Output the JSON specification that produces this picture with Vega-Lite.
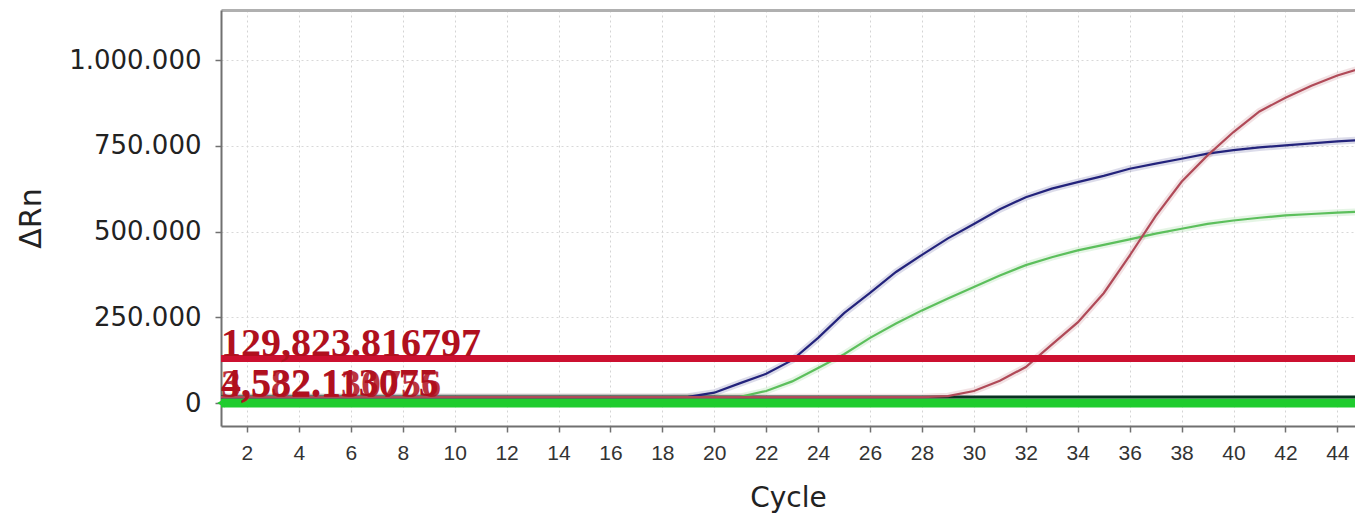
{
  "$schema": "https://vega.github.io/schema/vega-lite/v6.json",
  "width": 1134,
  "height": 416,
  "autosize": {"type": "none"},
  "padding": {"left": 221, "top": 10, "right": 0, "bottom": 95},
  "background": "white",
  "config": {
    "view": {"stroke": null},
    "locale": {"number": {"decimal": ",", "thousands": ".", "grouping": [3], "currency": ["", ""]}},
    "axisBottom": {"domainColor": "#707070", "domainWidth": 2, "tickColor": "#707070", "tickSize": 6, "tickWidth": 1.5, "labelFont": "Liberation Sans", "labelFontSize": 21, "labelColor": "#333333", "labelPadding": 10, "labelFlush": false, "labelOverlap": false, "titleFont": "DejaVu Sans", "titleFontSize": 28, "titleFontWeight": "normal", "titleColor": "#222222", "titlePadding": 21, "gridColor": "#d4d4d4", "gridDash": [2, 3], "gridWidth": 1},
    "axisLeft": {"domainColor": "#707070", "domainWidth": 2, "tickColor": "#707070", "tickSize": 6, "tickWidth": 1.5, "labelFont": "DejaVu Sans", "labelFontSize": 26, "labelColor": "#222222", "labelPadding": 14, "labelFlush": false, "labelOverlap": false, "titleFont": "DejaVu Sans", "titleFontSize": 30, "titleFontWeight": "normal", "titleColor": "#222222", "titlePadding": 22, "gridColor": "#d8d8d8", "gridDash": [2, 3], "gridWidth": 1},
    "axisTop": {"domainColor": "#b0b0b0", "domainWidth": 3, "ticks": false, "labels": false, "grid": false}
  },
  "resolve": {"axis": {"x": "independent"}},
  "datasets": {
    "curves": [
      {"cycle": 1, "well": "A", "dRn": 17000}, {"cycle": 2, "well": "A", "dRn": 17000}, {"cycle": 3, "well": "A", "dRn": 17000}, {"cycle": 4, "well": "A", "dRn": 17000}, {"cycle": 5, "well": "A", "dRn": 17000}, {"cycle": 6, "well": "A", "dRn": 17000}, {"cycle": 7, "well": "A", "dRn": 17000}, {"cycle": 8, "well": "A", "dRn": 17000}, {"cycle": 9, "well": "A", "dRn": 17000}, {"cycle": 10, "well": "A", "dRn": 17000}, {"cycle": 11, "well": "A", "dRn": 17000}, {"cycle": 12, "well": "A", "dRn": 17000}, {"cycle": 13, "well": "A", "dRn": 17000}, {"cycle": 14, "well": "A", "dRn": 17000}, {"cycle": 15, "well": "A", "dRn": 17000}, {"cycle": 16, "well": "A", "dRn": 17000}, {"cycle": 17, "well": "A", "dRn": 17000}, {"cycle": 18, "well": "A", "dRn": 17000}, {"cycle": 19, "well": "A", "dRn": 18000}, {"cycle": 20, "well": "A", "dRn": 30000}, {"cycle": 21, "well": "A", "dRn": 58000}, {"cycle": 22, "well": "A", "dRn": 85000}, {"cycle": 23, "well": "A", "dRn": 125000}, {"cycle": 24, "well": "A", "dRn": 190000}, {"cycle": 25, "well": "A", "dRn": 262000}, {"cycle": 26, "well": "A", "dRn": 321000}, {"cycle": 27, "well": "A", "dRn": 382000}, {"cycle": 28, "well": "A", "dRn": 432000}, {"cycle": 29, "well": "A", "dRn": 480000}, {"cycle": 30, "well": "A", "dRn": 522000}, {"cycle": 31, "well": "A", "dRn": 565000}, {"cycle": 32, "well": "A", "dRn": 600000}, {"cycle": 33, "well": "A", "dRn": 625000}, {"cycle": 34, "well": "A", "dRn": 644000}, {"cycle": 35, "well": "A", "dRn": 662000}, {"cycle": 36, "well": "A", "dRn": 683000}, {"cycle": 37, "well": "A", "dRn": 698000}, {"cycle": 38, "well": "A", "dRn": 712000}, {"cycle": 39, "well": "A", "dRn": 727000}, {"cycle": 40, "well": "A", "dRn": 737000}, {"cycle": 41, "well": "A", "dRn": 745000}, {"cycle": 42, "well": "A", "dRn": 751000}, {"cycle": 43, "well": "A", "dRn": 757000}, {"cycle": 44, "well": "A", "dRn": 763000}, {"cycle": 45, "well": "A", "dRn": 767000},
      {"cycle": 1, "well": "B", "dRn": 17000}, {"cycle": 2, "well": "B", "dRn": 17000}, {"cycle": 3, "well": "B", "dRn": 17000}, {"cycle": 4, "well": "B", "dRn": 17000}, {"cycle": 5, "well": "B", "dRn": 17000}, {"cycle": 6, "well": "B", "dRn": 17000}, {"cycle": 7, "well": "B", "dRn": 17000}, {"cycle": 8, "well": "B", "dRn": 17000}, {"cycle": 9, "well": "B", "dRn": 17000}, {"cycle": 10, "well": "B", "dRn": 17000}, {"cycle": 11, "well": "B", "dRn": 17000}, {"cycle": 12, "well": "B", "dRn": 17000}, {"cycle": 13, "well": "B", "dRn": 17000}, {"cycle": 14, "well": "B", "dRn": 17000}, {"cycle": 15, "well": "B", "dRn": 17000}, {"cycle": 16, "well": "B", "dRn": 17000}, {"cycle": 17, "well": "B", "dRn": 17000}, {"cycle": 18, "well": "B", "dRn": 17000}, {"cycle": 19, "well": "B", "dRn": 17000}, {"cycle": 20, "well": "B", "dRn": 17000}, {"cycle": 21, "well": "B", "dRn": 18000}, {"cycle": 22, "well": "B", "dRn": 35000}, {"cycle": 23, "well": "B", "dRn": 63000}, {"cycle": 24, "well": "B", "dRn": 102000}, {"cycle": 25, "well": "B", "dRn": 142000}, {"cycle": 26, "well": "B", "dRn": 190000}, {"cycle": 27, "well": "B", "dRn": 232000}, {"cycle": 28, "well": "B", "dRn": 270000}, {"cycle": 29, "well": "B", "dRn": 305000}, {"cycle": 30, "well": "B", "dRn": 338000}, {"cycle": 31, "well": "B", "dRn": 372000}, {"cycle": 32, "well": "B", "dRn": 402000}, {"cycle": 33, "well": "B", "dRn": 425000}, {"cycle": 34, "well": "B", "dRn": 445000}, {"cycle": 35, "well": "B", "dRn": 461000}, {"cycle": 36, "well": "B", "dRn": 477000}, {"cycle": 37, "well": "B", "dRn": 494000}, {"cycle": 38, "well": "B", "dRn": 508000}, {"cycle": 39, "well": "B", "dRn": 522000}, {"cycle": 40, "well": "B", "dRn": 532000}, {"cycle": 41, "well": "B", "dRn": 540000}, {"cycle": 42, "well": "B", "dRn": 547000}, {"cycle": 43, "well": "B", "dRn": 551000}, {"cycle": 44, "well": "B", "dRn": 555000}, {"cycle": 45, "well": "B", "dRn": 558000},
      {"cycle": 1, "well": "C", "dRn": 17000}, {"cycle": 2, "well": "C", "dRn": 17000}, {"cycle": 3, "well": "C", "dRn": 17000}, {"cycle": 4, "well": "C", "dRn": 17000}, {"cycle": 5, "well": "C", "dRn": 17000}, {"cycle": 6, "well": "C", "dRn": 17000}, {"cycle": 7, "well": "C", "dRn": 17000}, {"cycle": 8, "well": "C", "dRn": 17000}, {"cycle": 9, "well": "C", "dRn": 17000}, {"cycle": 10, "well": "C", "dRn": 17000}, {"cycle": 11, "well": "C", "dRn": 17000}, {"cycle": 12, "well": "C", "dRn": 17000}, {"cycle": 13, "well": "C", "dRn": 17000}, {"cycle": 14, "well": "C", "dRn": 17000}, {"cycle": 15, "well": "C", "dRn": 17000}, {"cycle": 16, "well": "C", "dRn": 17000}, {"cycle": 17, "well": "C", "dRn": 17000}, {"cycle": 18, "well": "C", "dRn": 17000}, {"cycle": 19, "well": "C", "dRn": 17000}, {"cycle": 20, "well": "C", "dRn": 17000}, {"cycle": 21, "well": "C", "dRn": 17000}, {"cycle": 22, "well": "C", "dRn": 17000}, {"cycle": 23, "well": "C", "dRn": 17000}, {"cycle": 24, "well": "C", "dRn": 17000}, {"cycle": 25, "well": "C", "dRn": 17000}, {"cycle": 26, "well": "C", "dRn": 17000}, {"cycle": 27, "well": "C", "dRn": 17000}, {"cycle": 28, "well": "C", "dRn": 17000}, {"cycle": 29, "well": "C", "dRn": 20000}, {"cycle": 30, "well": "C", "dRn": 35000}, {"cycle": 31, "well": "C", "dRn": 65000}, {"cycle": 32, "well": "C", "dRn": 105000}, {"cycle": 33, "well": "C", "dRn": 170000}, {"cycle": 34, "well": "C", "dRn": 235000}, {"cycle": 35, "well": "C", "dRn": 320000}, {"cycle": 36, "well": "C", "dRn": 430000}, {"cycle": 37, "well": "C", "dRn": 545000}, {"cycle": 38, "well": "C", "dRn": 645000}, {"cycle": 39, "well": "C", "dRn": 722000}, {"cycle": 40, "well": "C", "dRn": 790000}, {"cycle": 41, "well": "C", "dRn": 850000}, {"cycle": 42, "well": "C", "dRn": 890000}, {"cycle": 43, "well": "C", "dRn": 925000}, {"cycle": 44, "well": "C", "dRn": 955000}, {"cycle": 45, "well": "C", "dRn": 978000}
    ],
    "thresholds": [
      {"kind": "green", "value": 0, "label": "3,582.130756"},
      {"kind": "dark", "value": 17500, "label": "4,532.113075"},
      {"kind": "red", "value": 129823.816797, "label": "129,823.816797"}
    ]
  },
  "layer": [
    {
      "data": {"name": "curves"},
      "mark": {"type": "line", "strokeWidth": 7, "opacity": 0.16, "clip": true},
      "encoding": {
        "x": {"field": "cycle", "type": "quantitative", "scale": {"domain": [1, 44.68], "nice": false, "zero": false}, "axis": {"orient": "top", "title": null}},
        "y": {"field": "dRn", "type": "quantitative", "title": "ΔRn", "scale": {"domain": [-67055, 1145773], "nice": false, "zero": false}, "axis": {"orient": "left", "values": [0, 250000, 500000, 750000, 1000000], "grid": true, "format": ",d"}},
        "color": {"field": "well", "type": "nominal", "scale": {"domain": ["A", "B", "C"], "range": ["#23237c", "#5cbf5c", "#b04a58"]}, "legend": null},
        "detail": {"field": "well"}
      }
    },
    {
      "data": {"name": "thresholds"},
      "transform": [{"filter": "datum.kind == 'green'"}],
      "mark": {"type": "rule", "strokeWidth": 9, "color": "#1fcc2e"},
      "encoding": {"y": {"field": "value", "type": "quantitative", "title": "ΔRn"}}
    },
    {
      "data": {"name": "thresholds"},
      "transform": [{"filter": "datum.kind == 'dark'"}],
      "mark": {"type": "rule", "strokeWidth": 3, "color": "#0a3322"},
      "encoding": {"y": {"field": "value", "type": "quantitative", "title": "ΔRn"}}
    },
    {
      "data": {"name": "curves"},
      "mark": {"type": "line", "strokeWidth": 2.2, "clip": true},
      "encoding": {
        "x": {"field": "cycle", "type": "quantitative", "scale": {"domain": [1, 44.68], "nice": false, "zero": false}, "axis": {"orient": "bottom", "title": "Cycle", "values": [2, 4, 6, 8, 10, 12, 14, 16, 18, 20, 22, 24, 26, 28, 30, 32, 34, 36, 38, 40, 42, 44], "grid": true}},
        "y": {"field": "dRn", "type": "quantitative", "title": "ΔRn"},
        "color": {"field": "well", "type": "nominal", "legend": null}
      }
    },
    {
      "data": {"name": "thresholds"},
      "transform": [{"filter": "datum.kind == 'red'"}],
      "mark": {"type": "rule", "strokeWidth": 7, "color": "#cc1030"},
      "encoding": {"y": {"field": "value", "type": "quantitative", "title": "ΔRn"}}
    },
    {
      "data": {"name": "thresholds"},
      "transform": [{"filter": "datum.kind == 'red'"}],
      "mark": {"type": "text", "align": "left", "baseline": "alphabetic", "dy": -2, "font": "Liberation Serif", "fontWeight": "bold", "fontSize": 40, "color": "#b0101e"},
      "encoding": {
        "x": {"datum": 1, "type": "quantitative", "axis": null},
        "y": {"field": "value", "type": "quantitative", "title": "ΔRn"},
        "text": {"field": "label"}
      }
    },
    {
      "data": {"name": "thresholds"},
      "transform": [{"filter": "datum.kind == 'dark'"}],
      "mark": {"type": "text", "align": "left", "baseline": "alphabetic", "dy": -1, "font": "Liberation Serif", "fontWeight": "bold", "fontSize": 40, "color": "#b0101e"},
      "encoding": {
        "x": {"datum": 1, "type": "quantitative", "axis": null},
        "y": {"field": "value", "type": "quantitative", "title": "ΔRn"},
        "text": {"field": "label"}
      }
    },
    {
      "data": {"name": "thresholds"},
      "transform": [{"filter": "datum.kind == 'green'"}],
      "mark": {"type": "text", "align": "left", "baseline": "alphabetic", "dy": -6, "font": "Liberation Serif", "fontWeight": "bold", "fontSize": 40, "color": "#b0101e", "opacity": 0.85},
      "encoding": {
        "x": {"datum": 1, "type": "quantitative", "axis": null},
        "y": {"field": "value", "type": "quantitative", "title": "ΔRn"},
        "text": {"field": "label"}
      }
    },
    {
      "data": {"name": "thresholds"},
      "transform": [{"filter": "datum.kind == 'green'"}],
      "mark": {"type": "point", "shape": "triangle-left", "filled": true, "size": 80, "color": "#1fcc2e", "opacity": 1},
      "encoding": {
        "x": {"datum": 1, "type": "quantitative", "axis": null},
        "y": {"field": "value", "type": "quantitative", "title": "ΔRn"}
      }
    }
  ]
}
